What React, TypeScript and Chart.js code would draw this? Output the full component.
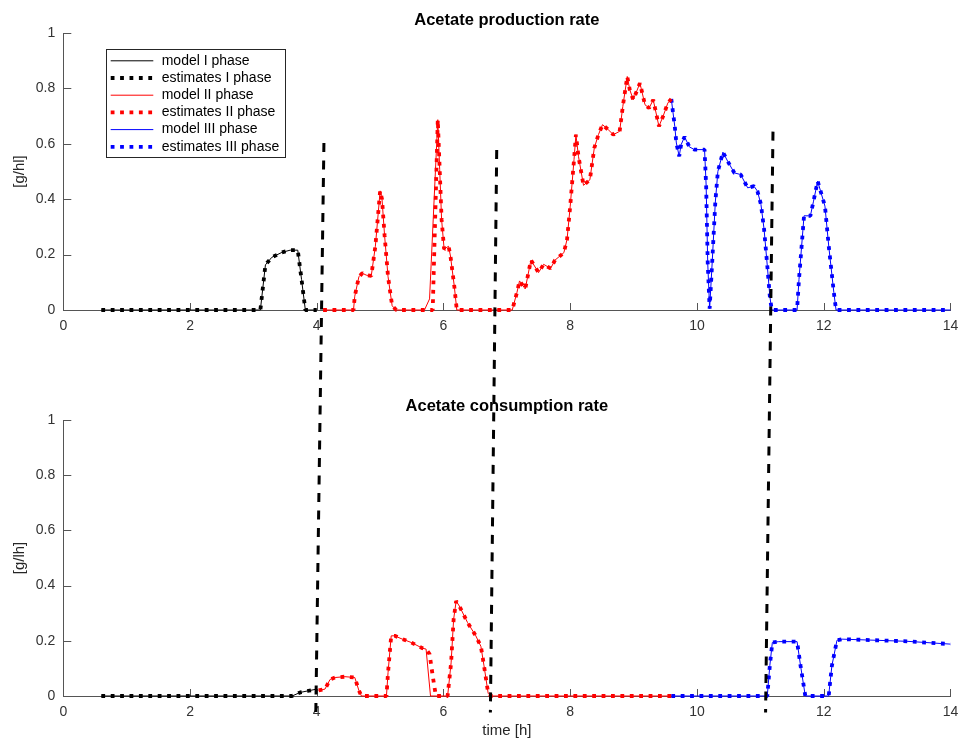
import React, { useEffect, useRef } from 'react';
import { Chart, registerables } from 'chart.js';

Chart.register(...registerables);

const FONT = 'Liberation Sans, Arial, Helvetica, sans-serif';
Chart.defaults.font.family = FONT;

const W = 966;
const TOP_H = 345;
const BOT_H = 395;

// ---------------- Acetate production rate (top) ----------------
const prodTimeI = [0.6, 3.11, 3.19, 3.29, 3.45, 3.58, 3.7, 3.76, 3.82, 4.0];
const prodValI = [0, 0, 0.163, 0.19, 0.208, 0.216, 0.216, 0.11, 0, 0];

const prodModelTimeII = [4.1, 4.58, 4.6, 4.665, 4.72, 4.78, 4.86, 4.925, 4.97, 5.0, 5.03, 5.07, 5.125, 5.19, 5.255, 5.7, 5.78, 5.91, 5.94, 5.97, 6.01, 6.08, 6.11, 6.17, 6.21, 7.085, 7.16, 7.2, 7.29, 7.38, 7.5, 7.58, 7.69, 7.76, 7.9, 7.95, 8.0, 8.06, 8.09, 8.13, 8.21, 8.31, 8.38, 8.445, 8.51, 8.6, 8.68, 8.78, 8.83, 8.9, 8.94, 8.995, 9.1, 9.18, 9.245, 9.31, 9.4, 9.465, 9.54, 9.595];
const prodModelValII = [0, 0, 0.05, 0.12, 0.133, 0.126, 0.123, 0.23, 0.35, 0.43, 0.4, 0.27, 0.12, 0.015, 0, 0, 0.04, 0.687, 0.507, 0.327, 0.22, 0.23, 0.195, 0.087, 0, 0, 0.064, 0.105, 0.076, 0.18, 0.135, 0.165, 0.15, 0.18, 0.207, 0.255, 0.375, 0.543, 0.633, 0.555, 0.45, 0.47, 0.585, 0.633, 0.669, 0.651, 0.633, 0.645, 0.735, 0.843, 0.795, 0.759, 0.819, 0.741, 0.729, 0.759, 0.663, 0.699, 0.747, 0.762];
const prodEstTimeII = [4.1, 4.58, 4.6, 4.665, 4.72, 4.78, 4.86, 4.925, 4.97, 5.0, 5.03, 5.07, 5.125, 5.19, 5.255, 5.83, 5.91, 5.94, 5.97, 6.01, 6.08, 6.11, 6.17, 6.21, 7.085, 7.16, 7.2, 7.29, 7.38, 7.5, 7.58, 7.69, 7.76, 7.9, 7.95, 8.0, 8.06, 8.09, 8.13, 8.21, 8.31, 8.38, 8.445, 8.51, 8.6, 8.68, 8.78, 8.83, 8.9, 8.94, 8.995, 9.1, 9.18, 9.245, 9.31, 9.4, 9.465, 9.54, 9.595];
const prodEstValII = [0, 0, 0.05, 0.12, 0.133, 0.126, 0.123, 0.23, 0.35, 0.43, 0.4, 0.27, 0.12, 0.015, 0, 0, 0.687, 0.507, 0.327, 0.22, 0.23, 0.195, 0.087, 0, 0, 0.064, 0.105, 0.076, 0.18, 0.135, 0.165, 0.15, 0.18, 0.207, 0.255, 0.375, 0.543, 0.633, 0.555, 0.45, 0.47, 0.585, 0.633, 0.669, 0.651, 0.633, 0.645, 0.735, 0.843, 0.795, 0.759, 0.819, 0.741, 0.729, 0.759, 0.663, 0.699, 0.747, 0.762];

const prodTimeIII = [9.595, 9.65, 9.675, 9.72, 9.75, 9.805, 9.88, 9.96, 10.12, 10.145, 10.17, 10.2, 10.24, 10.29, 10.33, 10.41, 10.485, 10.59, 10.69, 10.8, 10.9, 10.955, 11.01, 11.06, 11.11, 11.15, 11.18, 11.58, 11.61, 11.69, 11.79, 11.84, 11.905, 11.95, 12.02, 12.08, 12.16, 12.195, 14.0];
const prodValIII = [0.762, 0.663, 0.603, 0.555, 0.597, 0.625, 0.589, 0.579, 0.579, 0.45, 0.17, 0.005, 0.17, 0.39, 0.5, 0.57, 0.537, 0.495, 0.489, 0.441, 0.447, 0.429, 0.381, 0.29, 0.16, 0.05, 0, 0, 0.11, 0.34, 0.34, 0.393, 0.465, 0.43, 0.375, 0.23, 0.064, 0, 0];

// ---------------- Acetate consumption rate (bottom) ----------------
const consTimeI = [0.6, 3.61, 3.74, 3.87, 4.0];
const consValI = [0, 0, 0.013, 0.019, 0.025];

const consModelTimeII = [4.03, 4.13, 4.21, 4.29, 4.445, 4.6, 4.665, 4.705, 5.1, 5.125, 5.175, 5.23, 5.33, 5.49, 5.67, 5.725, 5.795, 6.065, 6.12, 6.16, 6.2, 6.25, 6.38, 6.51, 6.59, 6.64, 6.705, 6.745, 9.595];
const consModelValII = [0.02, 0.025, 0.06, 0.067, 0.07, 0.067, 0.02, 0, 0, 0.085, 0.218, 0.218, 0.208, 0.194, 0.173, 0.17, 0, 0, 0.12, 0.278, 0.344, 0.326, 0.266, 0.218, 0.18, 0.109, 0.01, 0, 0];
const consEstTimeII = [4.03, 4.13, 4.21, 4.29, 4.445, 4.6, 4.665, 4.705, 5.1, 5.125, 5.175, 5.23, 5.33, 5.49, 5.67, 5.725, 5.78, 5.83, 5.88, 6.065, 6.12, 6.16, 6.2, 6.25, 6.38, 6.51, 6.59, 6.64, 6.705, 6.745, 9.595];
const consEstValII = [0.02, 0.025, 0.06, 0.067, 0.07, 0.067, 0.02, 0, 0, 0.085, 0.218, 0.218, 0.208, 0.194, 0.173, 0.17, 0.152, 0.073, 0, 0, 0.12, 0.278, 0.344, 0.326, 0.266, 0.218, 0.18, 0.109, 0.01, 0, 0];

const consTimeIII = [9.595, 11.11, 11.15, 11.19, 11.29, 11.58, 11.635, 11.71, 12.08, 12.09, 12.13, 12.21, 12.29, 12.81, 13.33, 14.0];
const consValIII = [0, 0, 0.11, 0.194, 0.197, 0.197, 0.11, 0, 0, 0.025, 0.11, 0.202, 0.206, 0.202, 0.198, 0.188];

// ---------------- Phase boundaries (dashed lines across both panels) ----------------
const boundaryTopTime = [4.113, 6.84, 11.2];
const boundaryTopValue = [0.603, 0.578, 0.644];
const boundaryBottomTime = [3.985, 6.74, 11.083];
const boundaryBottomValue = [-0.06, -0.06, -0.06];

const seriesLabels = ['model I phase', 'estimates I phase', 'model II phase', 'estimates II phase', 'model III phase', 'estimates III phase'];
const phaseColors = ['#000000', '#ff0000', '#0000ff'];

const xTicks = [0, 2, 4, 6, 8, 10, 12, 14];
const yTicks = [0, 0.2, 0.4, 0.6, 0.8, 1];

function pts(t: number[], v: number[]) {
  return t.map((x, i) => ({ x, y: v[i] }));
}

function buildDatasets(groups: { mt: number[]; mv: number[]; et: number[]; ev: number[] }[]) {
  const ds: any[] = [];
  groups.forEach((g, i) => {
    ds.push({
      label: seriesLabels[i * 2],
      data: pts(g.mt, g.mv),
      borderColor: phaseColors[i],
      borderWidth: 1,
      pointRadius: 0,
      tension: 0,
      clip: false,
      order: 1,
    });
    ds.push({
      label: seriesLabels[i * 2 + 1],
      data: pts(g.et, g.ev),
      borderColor: phaseColors[i],
      borderWidth: 3.8,
      borderDash: [3.8, 5.6],
      borderCapStyle: 'butt',
      borderJoinStyle: 'bevel',
      pointRadius: 0,
      tension: 0,
      clip: false,
      order: 0,
    });
  });
  return ds;
}

const innerTicks = {
  id: 'innerTicks',
  beforeDatasetsDraw(chart: any) {
    const { ctx, chartArea } = chart;
    const xs = chart.scales.x;
    const ys = chart.scales.y;
    ctx.save();
    ctx.strokeStyle = '#555555';
    ctx.lineWidth = 1;
    ctx.beginPath();
    xTicks.forEach((t) => {
      const px = Math.round(xs.getPixelForValue(t)) + 0.5;
      ctx.moveTo(px, chartArea.bottom);
      ctx.lineTo(px, chartArea.bottom - 7);
    });
    yTicks.forEach((t) => {
      const py = Math.round(ys.getPixelForValue(t)) + 0.5;
      ctx.moveTo(chartArea.left, py);
      ctx.lineTo(chartArea.left + 8, py);
    });
    ctx.stroke();
    ctx.restore();
  },
};

const boxLegend = {
  id: 'boxLegend',
  afterDatasetsDraw(chart: any, _args: any, opts: any) {
    if (!opts || !opts.show) return;
    const { ctx } = chart;
    ctx.save();
    ctx.fillStyle = '#ffffff';
    ctx.fillRect(opts.left, opts.top, opts.width, opts.height);
    ctx.strokeStyle = '#262626';
    ctx.lineWidth = 1;
    ctx.setLineDash([]);
    ctx.strokeRect(opts.left + 0.5, opts.top + 0.5, opts.width, opts.height);
    ctx.font = `${opts.fontSize}px ${FONT}`;
    ctx.textBaseline = 'middle';
    ctx.textAlign = 'left';
    chart.data.datasets.forEach((ds: any, i: number) => {
      const y = opts.firstRow + i * opts.rowHeight;
      ctx.strokeStyle = ds.borderColor;
      ctx.lineWidth = ds.borderWidth;
      ctx.setLineDash(ds.borderDash || []);
      ctx.lineCap = 'butt';
      ctx.beginPath();
      ctx.moveTo(opts.sampleFrom, y);
      ctx.lineTo(opts.sampleTo, y);
      ctx.stroke();
      ctx.setLineDash([]);
      ctx.fillStyle = '#000000';
      ctx.fillText(ds.label, opts.textX, y);
    });
    ctx.restore();
  },
};

function fmtTick(v: any) {
  return String(Math.round(Number(v) * 100) / 100);
}

function makeConfig(p: {
  datasets: any[];
  title: string;
  titlePad: { top: number; bottom: number };
  xHeight: number;
  xTitle?: string;
  yTitle: string;
  legend: boolean;
}): any {
  return {
    type: 'line',
    data: { datasets: p.datasets },
    plugins: [innerTicks, boxLegend],
    options: {
      responsive: false,
      maintainAspectRatio: false,
      animation: false,
      devicePixelRatio: 1,
      events: [],
      parsing: false,
      layout: { padding: { left: 0, right: 10.2, top: 0, bottom: 0 } },
      plugins: {
        legend: { display: false },
        tooltip: { enabled: false },
        title: {
          display: true,
          text: p.title,
          fullSize: false,
          color: '#000000',
          font: { size: 16.5, weight: 'bold', family: FONT },
          padding: p.titlePad,
        },
        boxLegend: {
          show: p.legend,
          left: 106,
          top: 49,
          width: 179,
          height: 108,
          firstRow: 60.8,
          rowHeight: 17.2,
          sampleFrom: 110.7,
          sampleTo: 153.3,
          textX: 161.7,
          fontSize: 14,
        },
      },
      scales: {
        x: {
          type: 'linear',
          min: 0,
          max: 14,
          afterBuildTicks: (s: any) => {
            s.ticks = xTicks.map((v) => ({ value: v }));
          },
          ticks: { color: '#333333', font: { size: 14 }, padding: 7.8, maxRotation: 0, autoSkip: false, callback: fmtTick },
          grid: { drawOnChartArea: false, drawTicks: false },
          border: { color: '#555555', width: 1 },
          title: p.xTitle
            ? { display: true, text: p.xTitle, color: '#262626', font: { size: 15 }, padding: { top: 0, bottom: 0 } }
            : { display: false },
          afterFit: (s: any) => {
            s.height = p.xHeight;
          },
        },
        y: {
          type: 'linear',
          min: 0,
          max: 1,
          afterBuildTicks: (s: any) => {
            s.ticks = yTicks.map((v) => ({ value: v }));
          },
          ticks: { color: '#333333', font: { size: 14 }, padding: 8, callback: fmtTick },
          grid: { drawOnChartArea: false, drawTicks: false },
          border: { color: '#555555', width: 1 },
          title: { display: true, text: p.yTitle, color: '#262626', font: { size: 15 }, padding: { top: 11, bottom: 0 } },
          afterFit: (s: any) => {
            s.width = 63.3;
          },
        },
      },
    },
  };
}

export default function App() {
  const topRef = useRef<HTMLCanvasElement>(null);
  const botRef = useRef<HTMLCanvasElement>(null);
  const overRef = useRef<HTMLCanvasElement>(null);

  useEffect(() => {
    const topDatasets = buildDatasets([
      { mt: prodTimeI, mv: prodValI, et: prodTimeI, ev: prodValI },
      { mt: prodModelTimeII, mv: prodModelValII, et: prodEstTimeII, ev: prodEstValII },
      { mt: prodTimeIII, mv: prodValIII, et: prodTimeIII, ev: prodValIII },
    ]);
    const botDatasets = buildDatasets([
      { mt: consTimeI, mv: consValI, et: consTimeI, ev: consValI },
      { mt: consModelTimeII, mv: consModelValII, et: consEstTimeII, ev: consEstValII },
      { mt: consTimeIII, mv: consValIII, et: consTimeIII, ev: consValIII },
    ]);

    const c1 = new Chart(
      topRef.current!,
      makeConfig({
        datasets: topDatasets,
        title: 'Acetate production rate',
        titlePad: { top: 10.9, bottom: 2.3 },
        xHeight: 35,
        yTitle: '[g/hl]',
        legend: true,
      })
    );
    const c2 = new Chart(
      botRef.current!,
      makeConfig({
        datasets: botDatasets,
        title: 'Acetate consumption rate',
        titlePad: { top: 51.8, bottom: 3.4 },
        xHeight: 44,
        xTitle: 'time [h]',
        yTitle: '[g/lh]',
        legend: false,
      })
    );

    const ov = overRef.current!;
    const ctx = ov.getContext('2d')!;
    ctx.clearRect(0, 0, ov.width, ov.height);
    ctx.strokeStyle = '#000000';
    ctx.lineWidth = 3;
    ctx.lineCap = 'butt';
    ctx.setLineDash([9, 8.5]);
    boundaryTopTime.forEach((t, i) => {
      const x1 = (c1.scales as any).x.getPixelForValue(t);
      const y1 = (c1.scales as any).y.getPixelForValue(boundaryTopValue[i]);
      const x2 = (c2.scales as any).x.getPixelForValue(boundaryBottomTime[i]);
      const y2 = (c2.scales as any).y.getPixelForValue(boundaryBottomValue[i]) + TOP_H;
      ctx.beginPath();
      ctx.moveTo(x1, y1);
      ctx.lineTo(x2, y2);
      ctx.stroke();
    });

    return () => {
      c1.destroy();
      c2.destroy();
    };
  }, []);

  return (
    <div style={{ position: 'absolute', left: 0, top: 0, width: W, height: TOP_H + BOT_H, background: '#ffffff' }}>
      <canvas ref={topRef} width={W} height={TOP_H} style={{ position: 'absolute', left: 0, top: 0, display: 'block' }} />
      <canvas ref={botRef} width={W} height={BOT_H} style={{ position: 'absolute', left: 0, top: TOP_H, display: 'block' }} />
      <canvas
        ref={overRef}
        width={W}
        height={TOP_H + BOT_H}
        style={{ position: 'absolute', left: 0, top: 0, pointerEvents: 'none', display: 'block' }}
      />
    </div>
  );
}
